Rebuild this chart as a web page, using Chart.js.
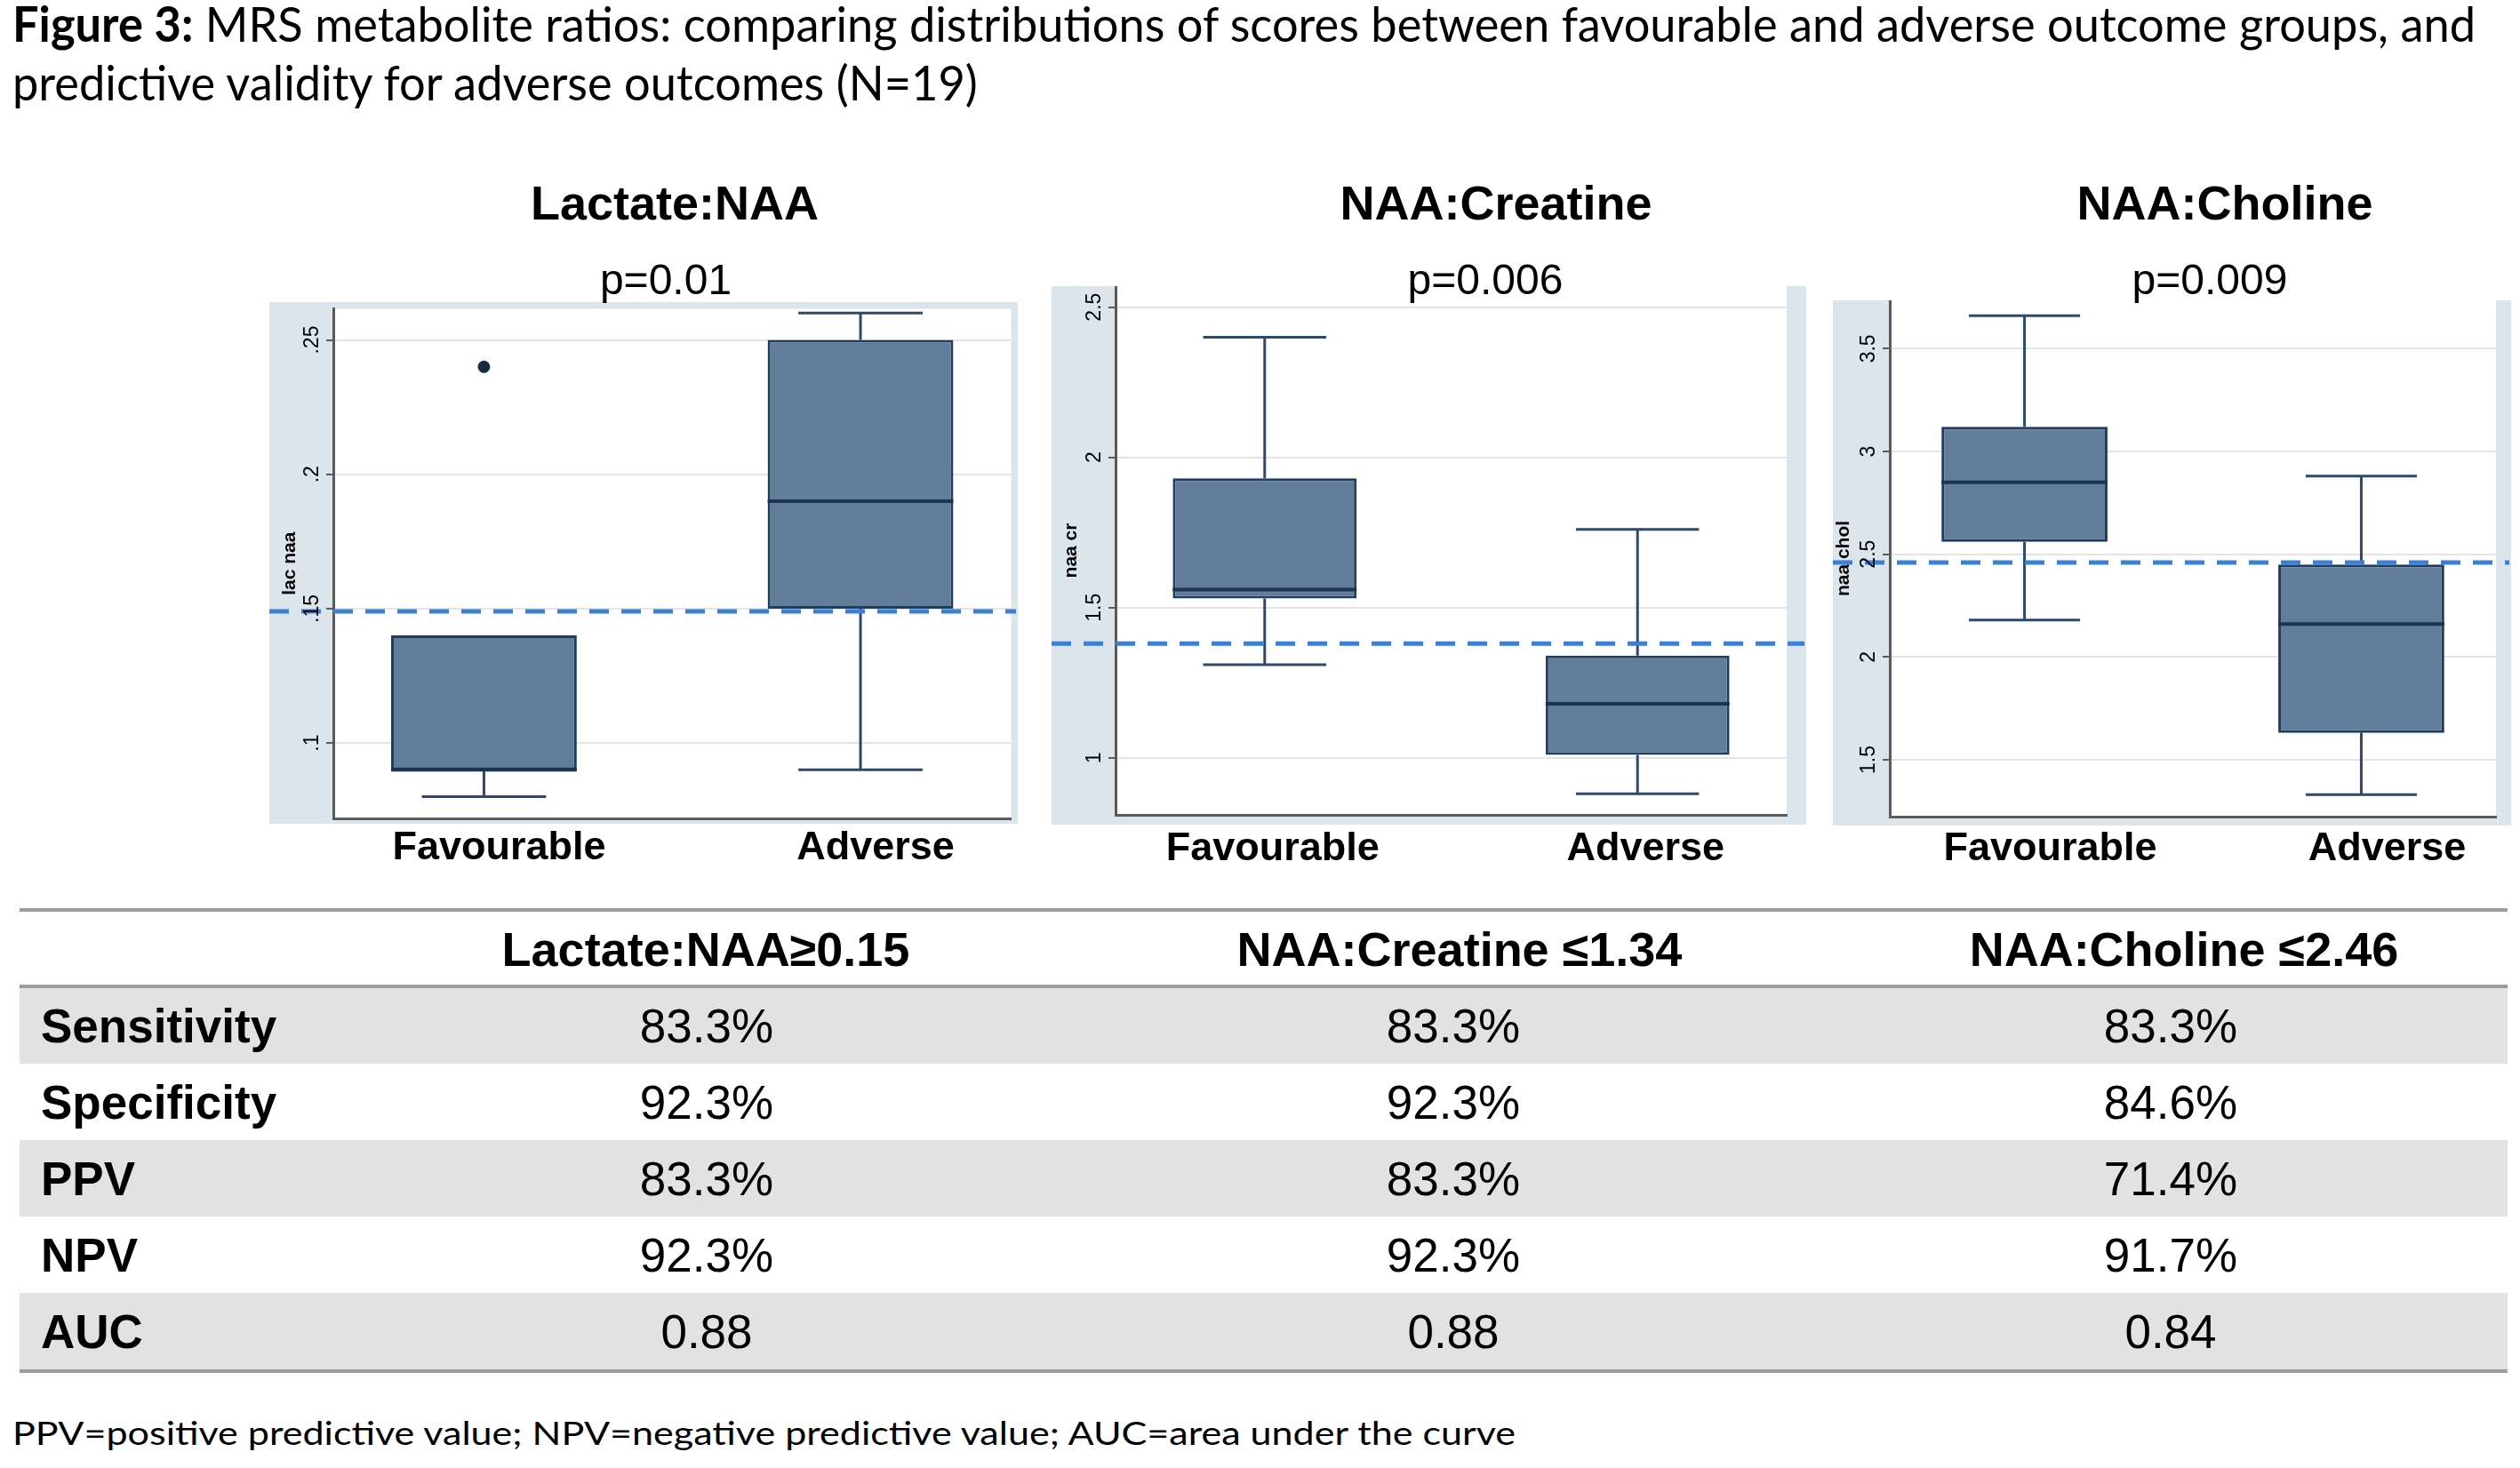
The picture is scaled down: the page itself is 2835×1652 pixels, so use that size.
<!DOCTYPE html>
<html>
<head>
<meta charset="utf-8">
<script src="https://cdn.jsdelivr.net/npm/chart.js@4.4.1/dist/chart.umd.min.js"></script>
<style>
  html, body { margin: 0; padding: 0; background: #fff; }
  #page { position: relative; width: 2835px; height: 1652px; overflow: hidden;
          font-family: "Liberation Sans", Arial, sans-serif; color: #000; }
  .abs { position: absolute; white-space: nowrap; }
  #title { left: 14px; top: -7px; font-family: Lato, sans-serif; font-size: 55px; line-height: 66px;
           transform-origin: 0 0; }
  #title span { display: inline-block; white-space: nowrap; }
  #foot { left: 14px; top: 1590px; font-family: Lato, sans-serif; font-size: 37px; line-height: 44px;
          transform-origin: 0 0; display: inline-block; }
  .ptitle { font-weight: bold; font-size: 54px; line-height: 1; transform: translate(-50%, -50%); z-index: 3; }
  .pval { font-size: 48px; line-height: 1; transform: translate(-50%, -50%); z-index: 3; }
  canvas { position: absolute; z-index: 1; }
  .rule { position: absolute; left: 22px; width: 2799px; height: 4px; background: #9c9c9c; }
  .band { position: absolute; left: 22px; width: 2799px; background: #e2e2e2; }
  .cell { position: absolute; font-size: 53px; line-height: 1; transform: translate(-50%, -50%); white-space: nowrap; }
  .rowlab { position: absolute; left: 46px; font-size: 53px; font-weight: bold; line-height: 1; transform: translateY(-50%); }
  .head { font-weight: bold; font-size: 54px; }
</style>
</head>
<body>
<div id="page">
  <div id="title" class="abs"><span id="t1"><b>Figure 3:</b> MRS metabolite ratios: comparing distributions of scores between favourable and adverse outcome groups, and</span><br><span>predictive validity for adverse outcomes (N=19)</span></div>
  <div id="foot" class="abs">PPV=positive predictive value; NPV=negative predictive value; AUC=area under the curve</div>
</div>
<script>
// ---- data ----
const groups = ['Favourable', 'Adverse'];
const ratioNames = ['Lactate:NAA', 'NAA:Creatine', 'NAA:Choline'];
const pValues = ['p=0.01', 'p=0.006', 'p=0.009'];
const axisTitles = ['lac naa', 'naa cr', 'naa chol'];

// [lower whisker, q1, median, q3, upper whisker] -> Favourable, Adverse
const lacNaaBox = [[0.08, 0.09, 0.09, 0.14, 0.14], [0.09, 0.15, 0.19, 0.25, 0.26]];
const naaCrBox = [[1.31, 1.53, 1.56, 1.93, 2.40], [0.88, 1.01, 1.18, 1.34, 1.76]];
const naaCholBox = [[2.18, 2.56, 2.85, 3.12, 3.66], [1.33, 1.63, 2.16, 2.45, 2.88]];
const lacNaaOutliers = [{ x: 0, y: 0.24 }];
const cutoffLines = [0.149, 1.38, 2.46];

const yTickValues = [[0.1, 0.15, 0.2, 0.25], [1, 1.5, 2, 2.5], [1.5, 2, 2.5, 3, 3.5]];
const yTickLabels = [['.1', '.15', '.2', '.25'], ['1', '1.5', '2', '2.5'], ['1.5', '2', '2.5', '3', '3.5']];
const yRanges = [[0.0719, 0.2616], [0.81, 2.57], [1.223, 3.735]];

// table under the plots
const cutoffHeaders = ['Lactate:NAA\u22650.15', 'NAA:Creatine \u22641.34', 'NAA:Choline \u22642.46'];
const measures = ['Sensitivity', 'Specificity', 'PPV', 'NPV', 'AUC'];
const lacNaaStats = ['83.3%', '92.3%', '83.3%', '92.3%', '0.88'];
const naaCrStats = ['83.3%', '92.3%', '83.3%', '92.3%', '0.88'];
const naaCholStats = ['83.3%', '84.6%', '71.4%', '91.7%', '0.84'];

// ---- layout / style ----
const boxes = [lacNaaBox, naaCrBox, naaCholBox];
const outliers = [lacNaaOutliers, [], []];
const panelLayout = [
  { left: 303, top: 340, width: 842, height: 650, padTop: 1, padRight: 4, axisW: 72, xH: 69, labelPad: 7, labelShift: 17, yTitlePad: 11, frameBottom: 6, titleX: 759, pX: 749 },
  { left: 1183, top: 322, width: 849, height: 668, padTop: 0, padRight: 22, axisW: 72, xH: 73, labelPad: 12, labelShift: 9, yTitlePad: 10, frameBottom: 11, titleX: 1683, pX: 1671 },
  { left: 2062, top: 338, width: 763, height: 652, padTop: 0, padRight: 17, axisW: 64, xH: 71, labelPad: 10, labelShift: 29, yTitlePad: 0, frameBottom: 10, titleX: 2503, pX: 2486 }
];
const C = {
  frame: '#dce5ec', grid: '#e4e4e4', axis: '#5a5a5a',
  boxFill: '#627d99', boxLine: '#213d5c', whisker: '#2c4a6b', median: '#1b3454',
  outlier: '#16293f', cutoff: '#3b80d4'
};
const FONT = '"Liberation Sans", Arial, sans-serif';

const stataBox = {
  id: 'stataBox',
  beforeDraw(chart, args, o) {
    const { ctx, chartArea: a } = chart;
    ctx.save();
    ctx.fillStyle = C.frame;
    ctx.fillRect(0, 0, chart.width, a.bottom + o.frameBottom);
    ctx.fillStyle = '#fff';
    ctx.fillRect(a.left, a.top, a.right - a.left, a.bottom - a.top);
    ctx.restore();
  },
  afterDatasetsDraw(chart, args, o) {
    const { ctx, scales: { x, y } } = chart;
    const bars = chart.getDatasetMeta(0).data;
    ctx.save();
    ctx.lineCap = 'butt';
    o.stats.forEach((s, i) => {
      const cx = x.getPixelForValue(i);
      const c0 = x.getPixelForValue(i - o.capHalf), c1 = x.getPixelForValue(i + o.capHalf);
      ctx.strokeStyle = C.whisker;
      ctx.lineWidth = 3;
      ctx.beginPath();
      if (s[4] > s[3]) {
        const yh = y.getPixelForValue(s[4]);
        ctx.moveTo(cx, y.getPixelForValue(s[3])); ctx.lineTo(cx, yh);
        ctx.moveTo(c0, yh); ctx.lineTo(c1, yh);
      }
      if (s[0] < s[1]) {
        const yl = y.getPixelForValue(s[0]);
        ctx.moveTo(cx, y.getPixelForValue(s[1])); ctx.lineTo(cx, yl);
        ctx.moveTo(c0, yl); ctx.lineTo(c1, yl);
      }
      ctx.stroke();
      const b = bars[i];
      const ym = y.getPixelForValue(s[2]);
      ctx.strokeStyle = C.median;
      ctx.lineWidth = 4;
      ctx.beginPath();
      ctx.moveTo(b.x - b.width / 2, ym); ctx.lineTo(b.x + b.width / 2, ym);
      ctx.stroke();
    });
    // cut-off reference line
    const yc = y.getPixelForValue(o.cutoff);
    ctx.strokeStyle = C.cutoff;
    ctx.lineWidth = 5;
    ctx.setLineDash([22, 14]);
    ctx.beginPath();
    ctx.moveTo(0, yc); ctx.lineTo(chart.width - 2, yc);
    ctx.stroke();
    ctx.restore();
  },
  afterDraw(chart) {
    // Stata-style vertical tick labels
    const { ctx, chartArea: a, scales: { y } } = chart;
    ctx.save();
    ctx.fillStyle = '#000';
    ctx.font = '23px ' + FONT;
    ctx.textAlign = 'center';
    ctx.textBaseline = 'middle';
    y.ticks.forEach(t => {
      ctx.save();
      ctx.translate(a.left - 23, y.getPixelForValue(t.value));
      ctx.rotate(-Math.PI / 2);
      ctx.fillText(t.label, 0, 0);
      ctx.restore();
    });
    ctx.restore();
  }
};

const page = document.getElementById('page');

panelLayout.forEach((L, p) => {
  const cv = document.createElement('canvas');
  cv.width = L.width; cv.height = L.height;
  cv.style.left = L.left + 'px'; cv.style.top = L.top + 'px';
  page.appendChild(cv);

  const t = document.createElement('div');
  t.className = 'abs ptitle'; t.textContent = ratioNames[p];
  t.style.left = L.titleX + 'px'; t.style.top = '228px';
  page.appendChild(t);
  const pv = document.createElement('div');
  pv.className = 'abs pval'; pv.textContent = pValues[p];
  pv.style.left = L.pX + 'px'; pv.style.top = '315px';
  page.appendChild(pv);

  new Chart(cv, {
    type: 'bar',
    data: {
      datasets: [{
        type: 'bar',
        data: groups.map((g, i) => ({ x: i, y: [boxes[p][i][1], boxes[p][i][3]] })),
        backgroundColor: C.boxFill,
        borderColor: C.boxLine,
        borderWidth: 3,
        borderSkipped: false,
        categoryPercentage: 1,
        barPercentage: 0.493
      }, {
        type: 'scatter',
        data: outliers[p],
        pointRadius: 6.5,
        pointBackgroundColor: C.outlier,
        pointBorderColor: C.outlier
      }]
    },
    options: {
      responsive: false,
      animation: false,
      events: [],
      layout: { padding: { top: L.padTop, right: L.padRight, left: 0, bottom: 0 } },
      plugins: {
        legend: { display: false },
        tooltip: { enabled: false },
        stataBox: { stats: boxes[p], cutoff: cutoffLines[p], capHalf: 0.165, frameBottom: L.frameBottom }
      },
      scales: {
        x: {
          type: 'linear', min: -0.4, max: 1.4, offset: false,
          afterBuildTicks: s => { s.ticks = groups.map((g, i) => ({ value: i })); },
          afterFit: s => { s.height = L.xH; },
          ticks: {
            callback: v => groups[v], padding: L.labelPad, labelOffset: L.labelShift, color: '#000',
            maxRotation: 0, autoSkip: false,
            font: { family: FONT, size: 45, weight: 'bold' }
          },
          grid: { display: false, drawTicks: false },
          border: { display: true, color: C.axis, width: 3 }
        },
        y: {
          min: yRanges[p][0], max: yRanges[p][1],
          afterBuildTicks: s => { s.ticks = yTickValues[p].map(v => ({ value: v })); },
          afterFit: s => { s.width = L.axisW; },
          ticks: { display: false, callback: (v, i) => yTickLabels[p][i] },
          grid: { color: C.grid, lineWidth: 2, tickColor: C.axis, tickWidth: 2, tickLength: 8 },
          border: { display: true, color: C.axis, width: 3 },
          title: {
            display: true, text: axisTitles[p], color: '#000',
            font: { family: FONT, size: 21, weight: 'bold' },
            padding: { top: L.yTitlePad, bottom: 0 }
          }
        }
      }
    },
    plugins: [stataBox]
  });
});

// ---- table ----
const colStats = [lacNaaStats, naaCrStats, naaCholStats];
const headX = [794, 1642, 2457];
const valX = [795, 1635, 2442];
const rowTop = 1111, rowH = 86;
function add(cls, text, css) {
  const d = document.createElement('div');
  d.className = cls; d.textContent = text || '';
  Object.assign(d.style, css);
  page.appendChild(d);
  return d;
}
measures.forEach((m, r) => {
  if (r % 2 === 0) add('band', '', { top: (rowTop + r * rowH) + 'px', height: rowH + 'px' });
});
add('rule', '', { top: '1022px' });
add('rule', '', { top: '1108px' });
add('rule', '', { top: (rowTop + measures.length * rowH) + 'px' });
cutoffHeaders.forEach((h, c) => add('cell head', h, { left: headX[c] + 'px', top: '1068px' }));
measures.forEach((m, r) => {
  const cy = rowTop + r * rowH + rowH / 2;
  add('rowlab', m, { top: cy + 'px' });
  colStats.forEach((col, c) => add('cell', col[r], { left: valX[c] + 'px', top: cy + 'px' }));
});

// squeeze the Calibri-like caption text to the figure's widths
const title = document.getElementById('title');
title.style.transform = 'scaleX(' + (2771 / document.getElementById('t1').getBoundingClientRect().width) + ')';
const foot = document.getElementById('foot');
foot.style.transform = 'scaleX(' + (1691 / foot.getBoundingClientRect().width) + ')';
</script>
</body>
</html>
